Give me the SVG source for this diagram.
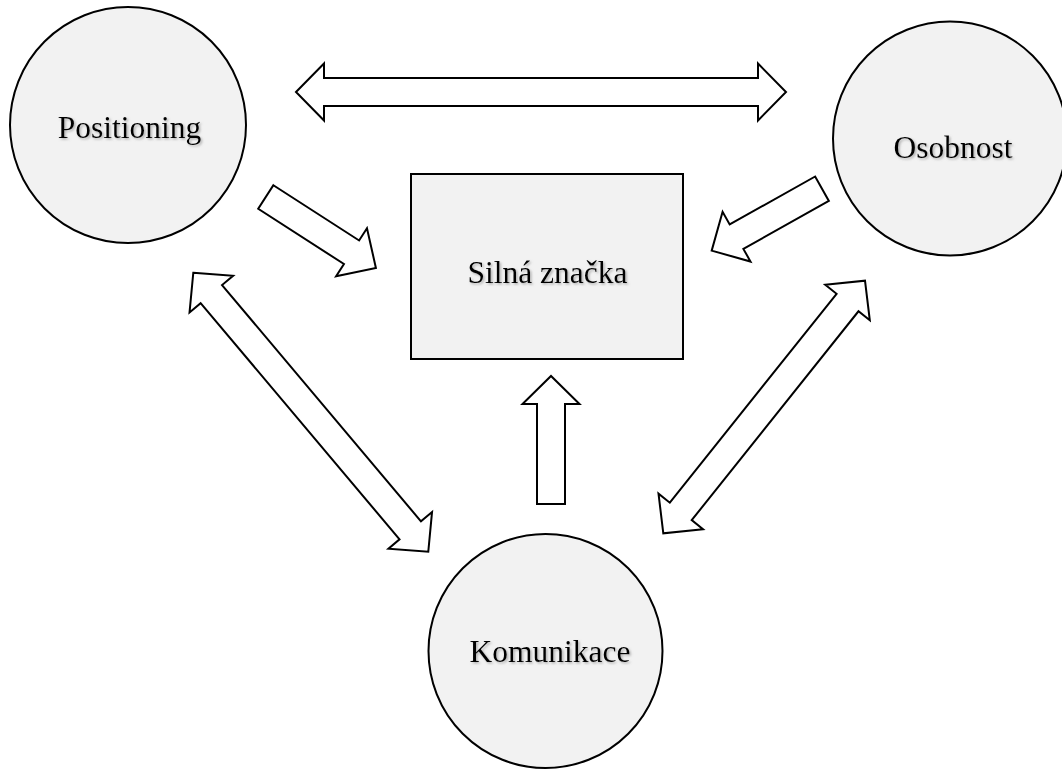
<svg xmlns="http://www.w3.org/2000/svg" width="1062" height="770" viewBox="0 0 1062 770">
  <defs>
    <filter id="soft-shadow" x="-10%" y="-30%" width="120%" height="160%">
      <feDropShadow dx="1.5" dy="1.5" stdDeviation="1" flood-color="#777" flood-opacity="0.55"/>
    </filter>
  </defs>
  <style>
    .node { fill: #f2f2f2; stroke: #000; stroke-width: 2; }
    .label { font-family: "Liberation Serif", "Times New Roman", serif; font-size: 31.5px; fill: #000; text-anchor: middle; filter: url(#soft-shadow); }
    .block { fill: #fff; stroke: #000; stroke-width: 2; stroke-linejoin: miter; }
  </style>
  <rect width="1062" height="770" fill="#fff"/>

  <!-- block arrows: drawn along +x from tail (0,0) to tip, then placed -->
  <g id="connectors">
    <!-- Positioning <-> Osobnost -->
    <path class="block" transform="translate(296,92)" d="M0,0 L28,-28.5 V-14 H462 V-28.5 L490,0 L462,28.5 V14 H28 V28.5 Z"/>
    <!-- Positioning -> Silná značka -->
    <path class="block" transform="translate(265.8,197) rotate(32.8)" d="M0,-14 H102 V-28.5 L131,0 L102,28.5 V14 H0 Z"/>
    <!-- Osobnost -> Silná značka -->
    <path class="block" transform="translate(822,188.7) rotate(150.7)" d="M0,-14 H98 V-28.5 L126.5,0 L98,28.5 V14 H0 Z"/>
    <!-- Komunikace -> Silná značka -->
    <path class="block" transform="translate(551,504) rotate(-90)" d="M0,-14 H100 V-28.5 L128,0 L100,28.5 V14 H0 Z"/>
    <!-- Positioning <-> Komunikace -->
    <path class="block" transform="translate(193.3,272.7) rotate(49.9)" d="M0,0 L28,-28.5 V-14 H336.8 V-28.5 L364.8,0 L336.8,28.5 V14 H28 V28.5 Z"/>
    <!-- Komunikace <-> Osobnost -->
    <path class="block" transform="translate(663.3,533.3) rotate(-51.4)" d="M0,0 L28,-28.5 V-14 H295.3 V-28.5 L323.3,0 L295.3,28.5 V14 H28 V28.5 Z"/>
  </g>

  <g id="node-positioning">
    <circle class="node" cx="128" cy="125" r="118"/>
    <text class="label" x="129.5" y="138">Positioning</text>
  </g>

  <g id="node-osobnost">
    <circle class="node" cx="950" cy="138.5" r="117"/>
    <text class="label" x="953" y="158">Osobnost</text>
  </g>

  <g id="node-silna-znacka">
    <rect class="node" x="411" y="174" width="272" height="185"/>
    <text class="label" x="547.5" y="283">Silná značka</text>
  </g>

  <g id="node-komunikace">
    <circle class="node" cx="545.5" cy="651" r="117"/>
    <text class="label" x="550" y="662">Komunikace</text>
  </g>
</svg>
